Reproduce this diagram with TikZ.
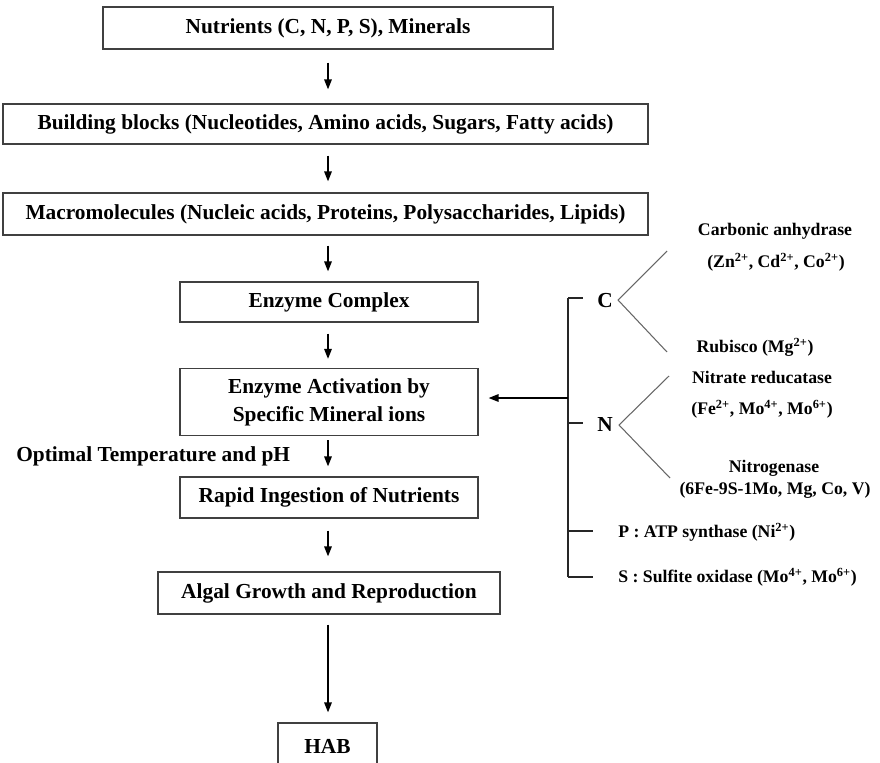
\documentclass[tikz,border=0pt]{standalone}
\usepackage{fontspec}
\setmainfont{Liberation Serif}
\usepackage{tikz}
\usetikzlibrary{arrows.meta}
\newcommand{\pxu}{0.025cm}
\newcommand{\ion}[1]{\textsuperscript{#1}}

\tikzset{
  box/.style={draw=black!75, line width=1pt, inner sep=0pt, align=center,
    font=\bfseries\fontsize{15.2}{20}\selectfont},
  lbl/.style={inner sep=0pt, font=\bfseries\fontsize{12.6}{15}\selectfont},
  arr/.style={-{Triangle[length=7pt,width=5.4pt]}, line width=0.8pt,
    shorten <=10*\pxu, shorten >=10*\pxu},
  brace/.style={draw=black!85, line width=0.8pt},
  twig/.style={draw=black!60, line width=0.75pt},
}

\begin{document}
\begin{tikzpicture}[x=\pxu, y=-\pxu]
\clip (0,0) rectangle (880,762);
\coordinate (ax) at (328,0);

%% main chain
\node[box, minimum width=450*\pxu, minimum height=42*\pxu] (nut) at (328,28) {Nutrients (C, N, P, S), Minerals};
\node[box, minimum width=645*\pxu, minimum height=40*\pxu] (bb) at (325.5,124) {Building blocks (Nucleotides, Amino acids, Sugars, Fatty acids)};
\node[box, minimum width=645*\pxu, minimum height=42*\pxu] (mac) at (325.5,214) {Macromolecules (Nucleic acids, Proteins, Polysaccharides, Lipids)};
\node[box, minimum width=298*\pxu, minimum height=40*\pxu] (enz) at (329,302) {Enzyme Complex};
\node[box, minimum width=298*\pxu, minimum height=67*\pxu] (act) at (329,402) {Enzyme Activation by\\Specific Mineral ions};
\node[box, minimum width=298*\pxu, minimum height=41*\pxu] (rap) at (329,497.5) {Rapid Ingestion of Nutrients};
\node[box, minimum width=342*\pxu, minimum height=42*\pxu] (alg) at (329,593) {Algal Growth and Reproduction};
\node[box, minimum width=99*\pxu, minimum height=46*\pxu] (hab) at (327.5,746) {HAB};
\node[lbl, anchor=west, font=\bfseries\fontsize{15.2}{18}\selectfont] (opt) at (16,456) {Optimal Temperature and pH};

%%
\draw[arr, shorten <=13*\pxu, shorten >=14*\pxu] (nut.south -| ax) -- (bb.north -| ax);
\draw[arr, shorten <=11*\pxu, shorten >=11*\pxu] (bb.south -| ax) -- (mac.north -| ax);
\draw[arr] (mac.south -| ax) -- (enz.north -| ax);
\draw[arr, shorten <=11*\pxu, shorten >=9*\pxu] (enz.south -| ax) -- (act.north -| ax);
\draw[arr, shorten <=4*\pxu] (act.south -| ax) -- (rap.north -| ax);
\draw[arr, shorten <=12*\pxu, shorten >=15*\pxu] (rap.south -| ax) -- (alg.north -| ax);
\draw[arr] (alg.south -| ax) -- (hab.north -| ax);

%% mineral ions
\coordinate (btop) at (568,298);
\coordinate (bmid) at (568,398);
\coordinate (bbot) at (568,577);
\draw[brace] (btop) -- (bbot);
\draw[brace] (btop) -- ++(15,0);
\draw[brace] (568,423) -- ++(15,0);
\draw[brace] (568,531) -- ++(25,0);
\draw[brace] (bbot) -- ++(25,0);
\draw[arr, shorten <=0pt] (bmid) -- (act.east |- bmid);

\node[box, draw=none] (cc) at (605,301) {C};
\node[box, draw=none] (nn) at (605,424) {N};
\node[lbl, anchor=west] (pp) at (618,532) {P : ATP synthase (Ni\ion{2+})};
\node[lbl, anchor=west] (ss) at (618,577) {S : Sulfite oxidase (Mo\ion{4+}, Mo\ion{6+})};

%%
\coordinate (c1) at (667,251);
\coordinate (c2) at (667,352);
\coordinate (n1) at (669,376);
\coordinate (n2) at (670,478);
\draw[twig] (c1) -- (618,300) -- (c2);
\draw[twig] (n1) -- (619,425) -- (n2);

\node[lbl] (ca) at (775,231) {Carbonic anhydrase};
\node[lbl] (caion) at (776,262) {(Zn\ion{2+}, Cd\ion{2+}, Co\ion{2+})};
\node[lbl] (rub) at (755,347) {Rubisco (Mg\ion{2+})};
\node[lbl] (nr) at (762,377) {Nitrate reducatase};
\node[lbl] (nrion) at (762,409) {(Fe\ion{2+}, Mo\ion{4+}, Mo\ion{6+})};
\node[lbl] (ng) at (774,468) {Nitrogenase};
\node[lbl] (ngion) at (775,490) {(6Fe-9S-1Mo, Mg, Co, V)};
\end{tikzpicture}
\end{document}
